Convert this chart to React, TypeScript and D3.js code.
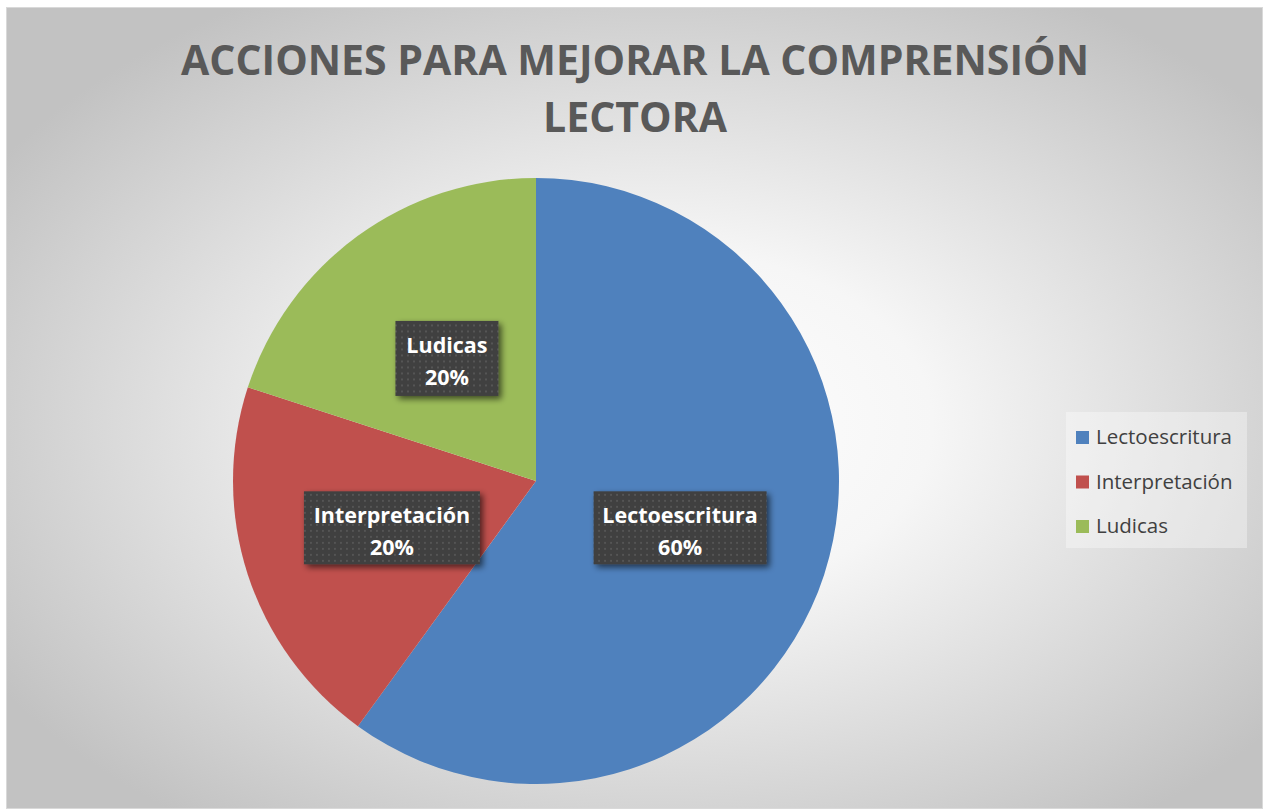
import React from "react";
import * as d3 from "d3";

const categories = ["Lectoescritura", "Interpretación", "Ludicas"];
const values = [60, 20, 20];
const colors = ["#4F81BD", "#C0504D", "#9BBB59"];
const titleLines = ["ACCIONES PARA MEJORAR LA COMPRENSIÓN", "LECTORA"];

const W = 1265;
const H = 810;
const cx = 536;
const cy = 481;
const R = 303;

export default function App() {
  const pie = d3.pie<number>().sort(null).value((d) => d)(values);
  const arc = d3.arc<d3.PieArcDatum<number>>().innerRadius(0).outerRadius(R);
  const total = d3.sum(values);
  const font = "'Open Sans', Calibri, sans-serif";
  const boxSizes = [
    { w: 173, h: 73 },
    { w: 176, h: 73 },
    { w: 103, h: 75 },
  ];
  return (
    <svg width={W} height={H} style={{ position: "absolute", left: 0, top: 0 }}>
      <defs>
        <radialGradient id="bg" cx="52%" cy="52%" r="62%" gradientUnits="objectBoundingBox">
          <stop offset="0%" stopColor="#ffffff" />
          <stop offset="35%" stopColor="#f6f6f6" />
          <stop offset="100%" stopColor="#c2c2c2" />
        </radialGradient>
        <pattern id="dots" width="6" height="6" patternUnits="userSpaceOnUse">
          <rect width="6" height="6" fill="#3f3f3f" />
          <rect x="2" y="2" width="2" height="2" fill="#555555" />
        </pattern>
        <filter id="shadow" x="-20%" y="-20%" width="150%" height="150%">
          <feGaussianBlur in="SourceAlpha" stdDeviation="3" />
          <feOffset dx="3" dy="3" result="b" />
          <feComponentTransfer>
            <feFuncA type="linear" slope="0.6" />
          </feComponentTransfer>
          <feMerge>
            <feMergeNode />
            <feMergeNode in="SourceGraphic" />
          </feMerge>
        </filter>
      </defs>
      <rect x={0} y={0} width={W} height={H} fill="#ffffff" />
      <rect x={6.5} y={7.5} width={1256} height={801} fill="url(#bg)" stroke="#d9d9d9" strokeWidth={1} />
      {titleLines.map((t, i) => (
        <text
          key={i}
          x={635}
          y={75 + i * 57}
          textAnchor="middle"
          fontFamily={font}
          fontWeight={700}
          fontSize={41}
          fill="#595959"
        >
          {t}
        </text>
      ))}
      <g transform={`translate(${cx},${cy})`}>
        {pie.map((p, i) => (
          <path key={i} d={arc(p) || ""} fill={colors[i]} />
        ))}
        {pie.map((p, i) => {
          const [lx, ly] = arc.centroid(p);
          const b = boxSizes[i];
          const pct = Math.round((p.data / total) * 100) + "%";
          return (
            <g key={"l" + i} transform={`translate(${lx},${ly})`}>
              <rect
                x={-b.w / 2}
                y={-b.h / 2}
                width={b.w}
                height={b.h}
                fill="url(#dots)"
                filter="url(#shadow)"
              />
              <text
                y={-5}
                textAnchor="middle"
                fontFamily={font}
                fontWeight={700}
                fontSize={21.5}
                fill="#ffffff"
              >
                {categories[i]}
              </text>
              <text
                y={27}
                textAnchor="middle"
                fontFamily={font}
                fontWeight={700}
                fontSize={21.5}
                fill="#ffffff"
              >
                {pct}
              </text>
            </g>
          );
        })}
      </g>
      <g>
        <rect x={1066} y={412} width={181} height={136} fill="#ffffff" fillOpacity={0.35} />
        {categories.map((c, i) => (
          <g key={c} transform={`translate(1076,${437 + i * 44.5})`}>
            <rect x={0} y={-6} width={13} height={13} fill={colors[i]} />
            <text x={20} y={7} fontFamily={font} fontSize={20.5} fill="#404040">
              {c}
            </text>
          </g>
        ))}
      </g>
    </svg>
  );
}
